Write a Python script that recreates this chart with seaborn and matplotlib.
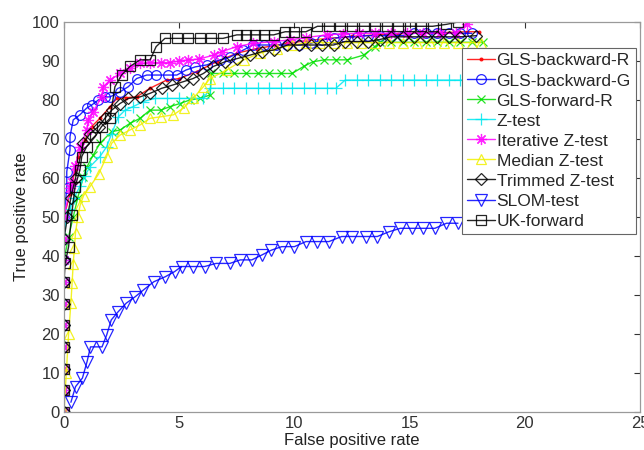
import numpy as np
import pandas as pd
import matplotlib
matplotlib.use("Agg")
import matplotlib.pyplot as plt
import seaborn as sns

# ---------------- data ----------------
Z0 = [0.0, 5.6, 11.1, 16.7, 22.2, 27.8, 33.3, 38.9, 44.4, 50.0]

gls_back_r_x = [0]*10 + [0.26, 0.48, 0.62, 0.9, 1.2, 1.56, 2.0, 2.29, 2.7, 3.15, 3.73, 4.45, 5.0, 5.76,
                         6.63, 7.5, 8.36, 9.2, 9.67, 10.5, 11.5, 12.5, 13.5, 14.5, 15.5, 16.5, 17.5, 18.0]
gls_back_r_y = Z0 + [56, 62, 65.5, 69.7, 73.2, 75.3, 78.3, 80.4, 80.6, 80.8, 83.0, 85.1, 85.5, 87.3,
                     89.8, 92.0, 93.2, 94.0, 94.5, 95.2, 95.8, 96.3, 96.7, 97.0, 97.2, 97.3, 97.5, 97.5]

gls_back_g_x = [0]*10 + [0.12, 0.12, 0.26, 0.26, 0.4, 0.69, 0.98, 1.2, 1.49, 1.78, 2.0, 2.43, 2.79, 3.15,
                         3.59, 4.0, 4.53, 4.9, 5.3, 5.7, 6.2, 6.77, 7.2, 7.78, 8.2, 8.7, 9.2, 9.7, 10.2,
                         10.7, 11.2, 11.7, 12.2, 12.7, 13.2, 13.7, 14.2, 14.7, 15.2, 15.7, 16.2, 16.7,
                         17.2, 17.7]
gls_back_g_y = Z0 + [57.4, 61.6, 67.2, 70.6, 74.9, 76.2, 77.9, 78.7, 80.0, 80.8, 80.8, 82.1, 83.4, 85.5,
                     86.4, 86.4, 86.4, 86.4, 87.7, 88.5, 89.0, 90.3, 91.0, 92.8, 94.1, 94.1, 94.1, 94.1,
                     94.1, 94.5, 95.4, 95.8, 96.2, 96.2, 96.5, 96.5, 96.5, 96.5, 97.1, 97.1, 97.1, 97.1,
                     97.1, 97.1]

gls_fwd_r_x = [0]*8 + [0.2, 0.4, 0.6, 0.84, 1.0, 1.27, 1.56, 2.07, 2.43, 2.86, 3.3, 3.73, 4.2, 4.6, 5.03,
                       5.46, 5.9, 6.34, 6.4, 6.9, 7.4, 7.9, 8.4, 8.9, 9.4, 9.9, 10.4, 10.8, 11.3, 11.8,
                       12.3, 13.0, 13.5, 13.7, 14.2, 14.7, 15.2, 15.7, 16.2, 16.7, 17.2, 17.7, 18.2]
gls_fwd_r_y = Z0[:8] + [45, 50, 55, 60.3, 62.9, 65.9, 68.9, 71.9, 72.3, 74.0, 75.3, 77.4, 77.4, 78.3,
                        79.1, 80.0, 80.4, 81.3, 86.8, 86.8, 86.8, 86.8, 86.8, 86.8, 86.8, 86.8, 88.6,
                        89.8, 90.3, 90.3, 90.3, 91.5, 93.7, 94.8, 94.8, 94.8, 94.8, 94.8, 94.8, 94.8,
                        94.8, 94.8, 94.8]

z_test_x = [0]*9 + [0.1, 0.25, 0.45, 0.7, 0.9, 1.13, 1.56, 1.85, 2.07, 2.36, 2.65, 3.0, 3.44, 3.95, 4.45,
                    5.0, 5.5, 6.05, 6.34, 6.9, 7.4, 7.9, 8.4, 8.9, 9.4, 9.9, 10.4, 10.9, 11.4, 11.8,
                    12.2, 12.7, 13.2, 13.7, 14.2, 14.7, 15.2, 15.7, 16.2, 16.7, 17.2, 17.8]
z_test_y = Z0[:9] + [50, 52, 55, 58, 60.5, 62.9, 65.5, 68, 71.4, 75.7, 77.4, 78.3, 79.6, 80.4, 80.4,
                     80.4, 80.4, 80.4, 83, 83, 83, 83, 83, 83, 83, 83, 83, 83, 83, 83,
                     85.1, 85.1, 85.1, 85.1, 85.1, 85.1, 85.1, 85.1, 85.1, 85.1, 85.1, 85.1]

iter_z_x = [0]*10 + [0.26, 0.33, 0.48, 0.7, 0.98, 1.06, 1.27, 1.63, 1.7, 2.0, 2.43, 2.86, 3.3, 3.73, 4.2,
                     4.6, 5.0, 5.4, 5.85, 6.5, 6.85, 7.5, 8.2, 9.1, 9.8, 10.5, 11.4, 12.1, 12.8, 13.5,
                     14.2, 14.9, 15.6, 16.3, 17.0, 17.5]
iter_z_y = Z0 + [57.4, 59, 63, 68, 72.3, 74.9, 77, 80.8, 83.4, 85.1, 86.8, 88.1, 89.4, 89.6, 89.6,
                 89.6, 90.0, 90.3, 90.5, 91.5, 92.4, 93.7, 94.5, 95.0, 95.4, 96.0, 96.7, 97.0, 97.1,
                 97.1, 97.1, 97.1, 97.1, 97.1, 97.1, 99.6]

median_z_x = [0, 0.1, 0.2, 0.3, 0.35, 0.4, 0.45, 0.5, 0.6, 0.7, 0.85, 1.13, 1.5, 1.85, 2.07, 2.43, 2.86,
              3.3, 3.73, 4.2, 4.75, 5.2, 5.6, 6.05, 6.34, 7.06, 7.8, 8.5, 9.23, 9.9, 10.5, 11.1, 11.7,
              12.3, 12.9, 13.5, 14.1, 14.7, 15.3, 15.9, 16.5, 17.1, 17.7, 18.1]
median_z_y = [0, 10, 20, 28, 33, 38, 42, 46, 50, 53, 55.5, 57.8, 61, 65.5, 68.9, 71, 72.3, 73.6, 75.3,
              75.7, 76.2, 78, 80.4, 83.4, 85.5, 87.7, 90.3, 92, 93.2, 94.0, 94.7, 94.7, 94.7, 94.7,
              94.7, 94.7, 94.7, 94.7, 94.7, 94.7, 94.7, 94.7, 94.7, 94.7]

trimmed_z_x = [0]*9 + [0.15, 0.3, 0.5, 0.84, 1.13, 1.5, 1.8, 2.07, 2.43, 2.79, 3.3, 3.73, 4.24, 4.7,
                       5.18, 5.6, 6.05, 6.48, 6.99, 7.5, 8.07, 8.6, 9.1, 9.7, 10.2, 10.7, 11.2, 11.7,
                       12.2, 12.7, 13.2, 13.7, 14.2, 14.7, 15.2, 15.7, 16.2, 16.7, 17.2, 17.9]
trimmed_z_y = Z0[:9] + [50, 55, 60, 68.9, 71.4, 73.2, 75.5, 77.4, 79.1, 80.4, 80.8, 81.7, 83, 83.8,
                        84.7, 85.5, 86.8, 88.6, 89.8, 90.6, 91.5, 92.4, 92.8, 94.1, 94.1, 94.1, 94.1,
                        94.1, 95, 95, 95, 95.5, 96.2, 96.2, 96.2, 96.2, 96.2, 96.2, 96.2, 96.5]

slom_x = [0.3, 0.5, 0.8, 1.0, 1.15, 1.65, 1.85, 2.05, 2.35, 2.7, 3.1, 3.45, 3.9, 4.4, 4.8, 5.1, 5.6,
          6.1, 6.6, 7.2, 7.65, 8.15, 8.6, 9.0, 9.45, 10.0, 10.5, 11.0, 11.5, 12.05, 12.5, 13.1, 13.6,
          14.1, 14.6, 15.1, 15.6, 16.1, 16.6, 17.1]
slom_y = [2.5, 6.5, 8.7, 12.9, 16.7, 16.7, 19.7, 23.6, 25.7, 27.9, 29.6, 31.3, 33.4, 34.7, 36.0, 37.3,
          37.3, 37.3, 38.1, 38.1, 39.0, 39.0, 40.3, 41.5, 42.4, 42.4, 43.7, 43.7, 43.7, 45.0, 45.0,
          45.0, 45.0, 46.2, 47.1, 47.1, 47.1, 47.1, 48.4, 48.4]

uk_x = [0, 0, 0, 0, 0, 0, 0, 0.05, 0.2, 0.33, 0.48, 0.69, 0.77, 0.98, 1.35, 1.63, 2.0, 2.21, 2.5, 2.86,
        3.3, 3.74, 4.0, 4.38, 4.89, 5.4, 5.9, 6.4, 6.9, 7.5, 7.9, 8.3, 8.7, 9.1, 9.6, 10.0, 10.5, 11.0,
        11.5, 12.0, 12.5, 13.0, 13.5, 14.0, 14.5, 15.0, 15.5, 16.0, 16.6, 17.1]
uk_y = [0, 5.6, 11.1, 16.7, 22.2, 27.8, 33.3, 38.1, 42.4, 50.5, 57.8, 62.0, 65.5, 68.0, 70.6, 73.2,
        75.3, 83.4, 86.4, 88.6, 90.3, 90.3, 93.7, 95.8, 95.8, 95.8, 95.8, 95.8, 95.8, 96.7, 96.7, 96.7,
        96.7, 96.7, 97.5, 97.5, 97.5, 98.9, 98.9, 98.9, 98.9, 98.9, 98.9, 98.9, 98.9, 98.9, 98.9, 98.9,
        99.4, 100]

methods = ["GLS-backward-R", "GLS-backward-G", "GLS-forward-R", "Z-test", "Iterative Z-test",
           "Median Z-test", "Trimmed Z-test", "SLOM-test", "UK-forward"]
xs = [gls_back_r_x, gls_back_g_x, gls_fwd_r_x, z_test_x, iter_z_x, median_z_x, trimmed_z_x, slom_x, uk_x]
ys = [gls_back_r_y, gls_back_g_y, gls_fwd_r_y, z_test_y, iter_z_y, median_z_y, trimmed_z_y, slom_y, uk_y]

x_ticks = [0, 5, 10, 15, 20, 25]
y_ticks = [0, 10, 20, 30, 40, 50, 60, 70, 80, 90, 100]

# ---------------- styling ----------------
colors = ["#ff0000", "#0000ff", "#00e000", "#00e8f0", "#ff00ff", "#f0f000", "#000000", "#0000ff", "#000000"]
markers = [".", "o", "x", "+", (8, 2, 0), "^", "D", "v", "s"]
msizes = [4, 7, 6, 8, 8, 7, 6, 8, 6.5]

sns.set_theme(style="white")
plt.rcParams["font.family"] = ["Liberation Sans", "DejaVu Sans"]

fig = plt.figure(figsize=(6.44, 4.5), dpi=100)
ax = fig.add_axes([64 / 644, 38 / 450, 576 / 644, 390 / 450])

frames = []
for m, x, y in zip(methods, xs, ys):
    frames.append(pd.DataFrame({"fpr": x, "tpr": y, "method": m, "order": range(len(x))}))
df = pd.concat(frames, ignore_index=True)

for i, m in enumerate(methods):
    sub = df[df["method"] == m]
    face = colors[i] if markers[i] == "." else "none"
    sns.lineplot(data=sub, x="fpr", y="tpr", ax=ax, sort=False, estimator=None,
                 color=colors[i], linewidth=1.0, marker=markers[i], markersize=msizes[i],
                 markerfacecolor=face, markeredgecolor=colors[i], markeredgewidth=0.9,
                 label=m, alpha=0.85)

ax.set_xlim(0, 25)
ax.set_ylim(0, 100)
ax.set_xticks(x_ticks)
ax.set_yticks(y_ticks)
ax.tick_params(axis="both", which="both", direction="in", length=4, width=0.8,
               top=True, right=True, labelsize=12, colors="#333333", pad=3)
for sp in ax.spines.values():
    sp.set_color("#9a9a9a")
    sp.set_linewidth(0.9)
ax.set_xlabel("False positive rate", fontsize=12, labelpad=1, color="#222222")
ax.set_ylabel("True positive rate", fontsize=12, labelpad=2, color="#222222")

leg = ax.legend(loc="upper right", bbox_to_anchor=(0.993, 0.933), fontsize=12.5, frameon=True,
                fancybox=False, shadow=False, borderpad=0.3, labelspacing=0.28, handlelength=1.6,
                handletextpad=0.1, borderaxespad=0.0)
leg.get_frame().set_edgecolor("#666666")
leg.get_frame().set_linewidth(0.8)
leg.get_frame().set_alpha(1.0)

fig.savefig("out.png", dpi=100)
